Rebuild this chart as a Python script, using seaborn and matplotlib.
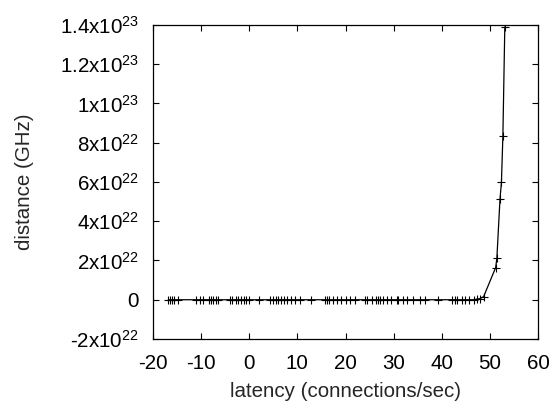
import matplotlib
matplotlib.use("Agg")
import matplotlib.pyplot as plt
import seaborn as sns
import pandas as pd

# data
latency = [-16.8, -16.4, -16.0, -15.6, -14.9, -11.0, -10.3, -9.6, -8.4, -8.0,
           -7.6, -7.0, -6.6, -4.1, -3.5, -2.8, -2.4, -1.8, -1.1, -0.6,
           -0.1, 2.1, 4.4, 4.9, 5.5, 6.0, 6.6, 7.2, 7.9, 8.6,
           9.6, 10.6, 12.9, 15.7, 16.1, 16.5, 17.3, 18.3, 19.1, 20.1,
           21.0, 21.9, 24.0, 24.5, 25.4, 26.3, 26.8, 27.2, 27.7, 28.6,
           29.5, 30.7, 31.0, 31.9, 32.8, 34.1, 35.5, 36.6, 39.3, 42.1,
           42.7, 43.2, 44.2, 44.9, 45.7, 46.6, 47.3, 48.0, 48.7,
           51.2, 51.45, 52.1, 52.4, 52.7, 53.1]
distance = [0.0] * 66 + [0.3e21, 0.6e21, 1.6e21,
                         16.4e21, 21.1e21, 51.3e21, 59.8e21, 83.4e21, 139e21]

xticks = [-20, -10, 0, 10, 20, 30, 40, 50, 60]
yticks = [-2e22, 0, 2e22, 4e22, 6e22, 8e22, 1e23, 1.2e23, 1.4e23]
ytick_labels = ["-2x10$^{22}$", "0", "2x10$^{22}$", "4x10$^{22}$",
                "6x10$^{22}$", "8x10$^{22}$", "1x10$^{23}$",
                "1.2x10$^{23}$", "1.4x10$^{23}$"]

df = pd.DataFrame({"latency": latency, "distance": distance})

sns.set_style("ticks")
plt.rcParams["font.family"] = ["Liberation Sans", "DejaVu Sans"]
plt.rcParams["mathtext.fontset"] = "custom"
plt.rcParams["mathtext.rm"] = "Liberation Sans"
plt.rcParams["mathtext.default"] = "regular"
plt.rcParams["axes.unicode_minus"] = False

fs = 14.8
fig = plt.figure(figsize=(5.53, 4.03), dpi=100)
ax = fig.add_axes([0.2767, 0.1588, 0.6962, 0.7794])

sns.lineplot(data=df, x="latency", y="distance", ax=ax, color="black",
             linewidth=0.9, marker="+", markersize=5.5, markeredgewidth=0.8,
             markeredgecolor="black", estimator=None)

ax.set_xlim(-20, 60)
ax.set_ylim(-2e22, 1.4e23)
ax.set_xticks(xticks)
ax.set_xticklabels([str(t) for t in xticks])
ax.set_yticks(yticks)
ax.set_yticklabels(ytick_labels)
ax.tick_params(direction="in", length=4.5, width=0.8, top=True, right=True,
               labelsize=fs, colors="black")
ax.tick_params(axis="y", pad=10)
ax.tick_params(axis="x", pad=11)
for s in ax.spines.values():
    s.set_visible(True)
    s.set_linewidth(0.9)
    s.set_color("black")

ax.set_xlabel("latency (connections/sec)", fontsize=fs)
ax.set_ylabel("distance (GHz)", fontsize=fs)
ax.xaxis.set_label_coords(0.5, -0.166, transform=ax.transAxes)
ax.yaxis.set_label_coords(-0.335, 0.5, transform=ax.transAxes)
ax.xaxis.label.set_verticalalignment("center")
ax.yaxis.label.set_verticalalignment("center")

fig.savefig("out.png", dpi=100)
